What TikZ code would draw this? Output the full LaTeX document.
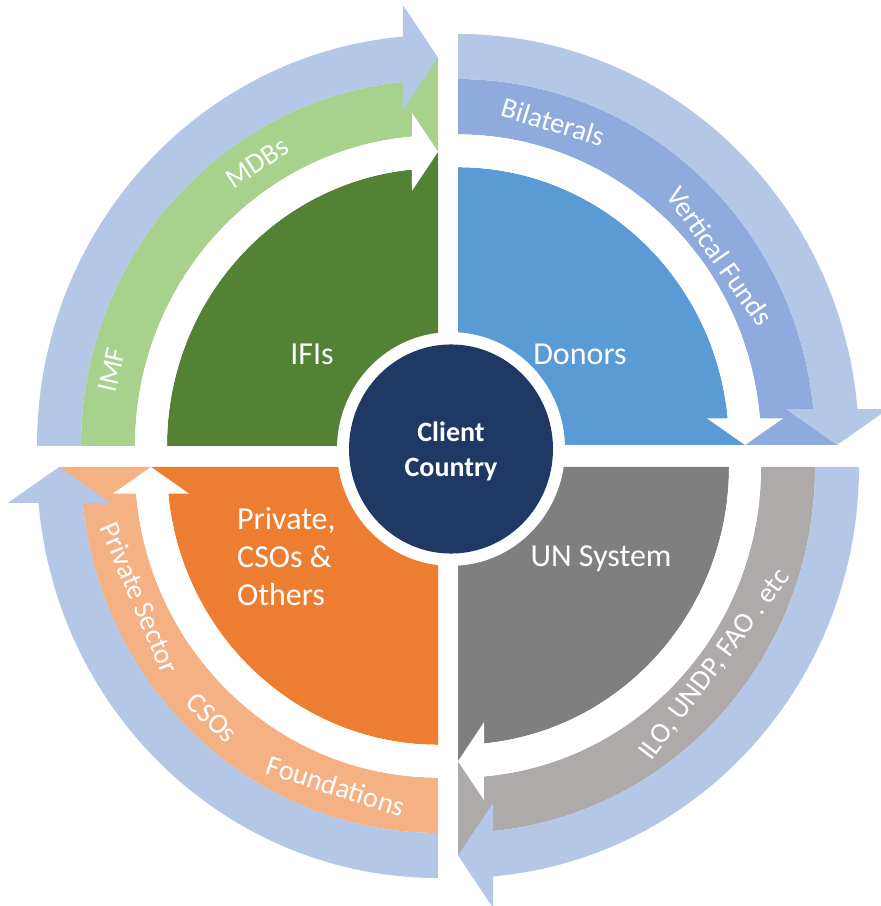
\documentclass[tikz,border=0pt]{standalone}
\usepackage{fontspec}
\setmainfont{Carlito}
\usepackage{tikz}

\definecolor{ifigreen}{HTML}{548235}
\definecolor{mdbgreen}{HTML}{A9D18E}
\definecolor{donorblue}{HTML}{5B9BD5}
\definecolor{bilatblue}{HTML}{8FAADC}
\definecolor{ungray}{HTML}{7F7F7F}
\definecolor{agencygray}{HTML}{AEAAAA}
\definecolor{privorange}{HTML}{ED7D31}
\definecolor{founorange}{HTML}{F4B183}
\definecolor{flowblue}{HTML}{B4C7E7}
\definecolor{clientnavy}{HTML}{203864}

\begin{document}
\begin{tikzpicture}[x=1pt,y=1pt,every node/.style={text=white,inner sep=0pt},
    big/.style={font=\fontsize{32}{38}\selectfont},
    band/.style={font=\fontsize{28.5}{31}\selectfont}]
  \useasboundingbox (0,0) rectangle (881,906);

  % the four quarters, each turned a step clockwise
  \foreach \cx/\cy/\rot/\qin/\qmid in {438/460/0/ifigreen/mdbgreen,
      458/461/-90/donorblue/bilatblue,458/439/-180/ungray/agencygray,
      438/439/-270/privorange/founorange}{
    \begin{scope}[shift={(\cx,\cy)},yscale=1.025,rotate=\rot]
      \fill[fill=\qin] (0,0) -- (180:271) arc[start angle=180,end angle=95.51,radius=271]
        -- (0,287) -- cycle;
      \fill[fill=\qmid] (180:303) -- (180:357) arc[start angle=180,end angle=95.63,radius=357]
        -- (0,379) -- (0,287) -- (94.92:303) arc[start angle=94.92,end angle=180,radius=303] -- cycle;
      \fill[white] (180:271) -- (180:303) arc[start angle=180,end angle=94.92,radius=303]
        -- (-26,325) -- (0,287) -- (-26,249) -- (95.51:271)
        arc[start angle=95.51,end angle=180,radius=271] -- cycle;
      \fill[flowblue] (180:357) -- (180:401) arc[start angle=180,end angle=95.01,radius=401]
        -- (-35,430) -- (0,379) -- (-35,328) -- (95.63:357)
        arc[start angle=95.63,end angle=180,radius=357] -- cycle;
    \end{scope}
  }

  \begin{scope}[shift={(451,457)},yscale=1.025]
    \fill[white] (0,0) circle[radius=114];
    \fill[clientnavy] (0,0) circle[radius=102];
  \end{scope}

  \node[big] (nIFI) at (312,552) {IFIs};
  \node[big] (nDonors) at (580,552) {Donors};
  \node[big] (nUN) at (601,347) {UN System};
  \node[big,align=left,anchor=west] (nPrivate) at (237,349) {Private,\\CSOs \&\\Others};
  \node[font=\bfseries\fontsize{28}{35}\selectfont,align=center] (nClient) at (451,455) {Client\\Country};

  \node[band,rotate=77] (nIMF) at (112,536) {IMF};
  \node[band,rotate=33] (nMDB) at (257,743) {MDBs};
  \node[band,rotate=-17] (nBilat) at (553,784) {Bilaterals};
  \node[band,rotate=-55] (nVert) at (720,650) {Vertical Funds};
  \node[band,rotate=53] (nAgency) at (715,241) {ILO, UNDP, FAO . etc};
  \node[band,rotate=-67] (nPrivSec) at (140,308) {Private Sector};
  \node[band,rotate=-43] (nCSO) at (212,188) {CSOs};
  \node[band,rotate=-18] (nFound) at (336,120) {Foundations};
\end{tikzpicture}
\end{document}
